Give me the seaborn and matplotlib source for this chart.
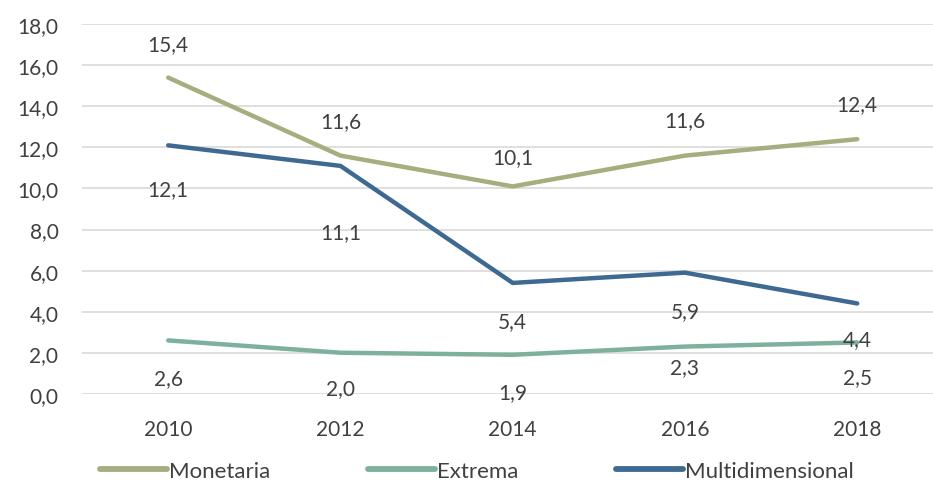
import pandas as pd
import numpy as np
import matplotlib
matplotlib.use('Agg')
import matplotlib.pyplot as plt
import seaborn as sns

# data
years = ['2010', '2012', '2014', '2016', '2018']
monetaria = [15.4, 11.6, 10.1, 11.6, 12.4]
extrema = [2.6, 2.0, 1.9, 2.3, 2.5]
multidimensional = [12.1, 11.1, 5.4, 5.9, 4.4]

series_names = ['Monetaria', 'Extrema', 'Multidimensional']
colors = ['#A4AE7F', '#7DB19C', '#3E6A92']

# label offsets (pixels) - above for monetaria, below for the rest
label_offsets = {
    'Monetaria': [34, 35, 29, 36, 35],
    'Extrema': [-38, -35, -37, -21, -35],
    'Multidimensional': [-44, -66, -38, -38, -36],
}

df = pd.DataFrame({'Año': years, 'Monetaria': monetaria,
                   'Extrema': extrema, 'Multidimensional': multidimensional})
long = df.melt(id_vars='Año', var_name='Serie', value_name='Valor')

sns.set_style('white')
plt.rcParams['font.family'] = ['Lato', 'DejaVu Sans']
text_col = '#404040'
fs = 15

fig = plt.figure(figsize=(9.33, 4.85), dpi=100)
ax = fig.add_axes([0.088, 0.186, 0.912, 0.762])

sns.lineplot(data=long, x='Año', y='Valor', hue='Serie', hue_order=series_names,
             palette=colors, linewidth=3.2, ax=ax, sort=False, legend=True)

for name in series_names:
    vals = df[name].tolist()
    for i, v in enumerate(vals):
        ax.annotate(f'{v:.1f}'.replace('.', ','), (i, v),
                    xytext=(0, label_offsets[name][i] * 0.72), textcoords='offset points',
                    ha='center', va='center', fontsize=fs, color=text_col)

ax.set_ylim(0, 18)
ax.set_yticks(np.arange(0, 18.1, 2))
ax.set_yticklabels([f'{t:.1f}'.replace('.', ',') for t in np.arange(0, 18.1, 2)])
ax.set_xlim(-0.5, 4.44)
ax.yaxis.grid(True, color='#D9D9D9', linewidth=1.2)
ax.set_axisbelow(True)
for s in ax.spines.values():
    s.set_visible(False)
ax.tick_params(axis='both', length=0, labelsize=fs, colors=text_col)
ax.tick_params(axis='x', pad=18)
ax.tick_params(axis='y', pad=17)
ax.set_xlabel('')
ax.set_ylabel('')

handles, labels = ax.get_legend_handles_labels()
for h in handles:
    h.set_linewidth(4.2)
ax.legend(handles, labels, loc='center left', bbox_to_anchor=(0.021, -0.208), ncol=3,
          frameon=False, fontsize=16, labelcolor=text_col, handlelength=3.0,
          handletextpad=0.1, columnspacing=4.4, borderpad=0, borderaxespad=0)

fig.savefig('out.png', dpi=100)
